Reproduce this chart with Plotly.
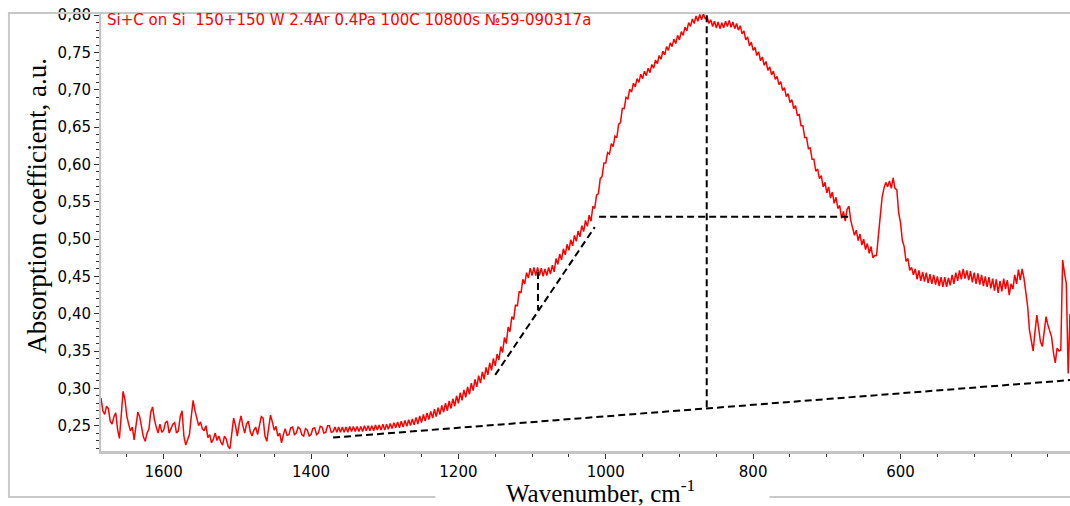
import plotly.graph_objects as go

# IR absorption spectrum.
# Four pieces, each sampled every 2.5 cm-1 starting from its first wavenumber.
step = 2.5

seg_noise_start = 1685
seg_noise = [
    0.287, 0.270, 0.265, 0.276, 0.273, 0.256, 0.252, 0.262, 0.267, 0.245,
    0.233, 0.262, 0.296, 0.285, 0.263, 0.252, 0.243, 0.248, 0.231, 0.250,
    0.268, 0.262, 0.247, 0.235, 0.229, 0.240, 0.245, 0.268, 0.275, 0.258,
    0.248, 0.240, 0.252, 0.241, 0.244, 0.254, 0.256, 0.240, 0.246, 0.252,
    0.254, 0.240, 0.243, 0.262, 0.270, 0.236, 0.224, 0.232, 0.238, 0.262,
    0.284, 0.270, 0.260, 0.250, 0.255, 0.246, 0.243, 0.250, 0.234, 0.238,
    0.227, 0.232, 0.240, 0.230, 0.236, 0.228, 0.224, 0.236, 0.232, 0.222,
    0.219, 0.240, 0.260, 0.250, 0.236, 0.252, 0.263, 0.250, 0.240, 0.252,
    0.256, 0.242, 0.236, 0.244, 0.248, 0.238, 0.252, 0.262, 0.260, 0.236,
    0.229, 0.250, 0.264, 0.255, 0.244, 0.249, 0.236, 0.240, 0.227, 0.238,
    0.246, 0.237, 0.238, 0.247, 0.248, 0.238, 0.240, 0.248, 0.246, 0.238,
    0.236, 0.246, 0.244, 0.236, 0.238, 0.246, 0.247, 0.238, 0.240, 0.249,
    0.248, 0.240, 0.241, 0.250, 0.250, 0.241, 0.242,
]

seg_rise_start = 1367.5
seg_rise = [
    0.248, 0.241, 0.248, 0.241, 0.248, 0.241, 0.248, 0.241, 0.249, 0.242,
    0.249, 0.242, 0.249, 0.242, 0.249, 0.242, 0.250, 0.243, 0.250, 0.243,
    0.250, 0.243, 0.251, 0.244, 0.251, 0.244, 0.252, 0.244, 0.252, 0.245,
    0.253, 0.246, 0.254, 0.247, 0.255, 0.247, 0.256, 0.248, 0.257, 0.249,
    0.258, 0.250, 0.259, 0.251, 0.261, 0.252, 0.263, 0.254, 0.265, 0.256,
    0.267, 0.258, 0.269, 0.260, 0.272, 0.262, 0.274, 0.265, 0.277, 0.268,
    0.280, 0.270, 0.283, 0.273, 0.286, 0.276, 0.290, 0.280, 0.294, 0.284,
    0.298, 0.288, 0.302, 0.292, 0.307, 0.297, 0.312, 0.302, 0.317, 0.307,
    0.322, 0.312, 0.328, 0.318, 0.334, 0.324, 0.340, 0.330, 0.346, 0.338,
    0.356, 0.348, 0.368, 0.360, 0.382, 0.376, 0.396, 0.392, 0.412, 0.410,
    0.430, 0.428, 0.446, 0.440, 0.455, 0.448, 0.461, 0.451, 0.462, 0.451,
    0.462, 0.451, 0.461, 0.450, 0.460, 0.451, 0.462, 0.453, 0.465, 0.456,
    0.474, 0.466, 0.480, 0.472, 0.487, 0.479, 0.493, 0.485, 0.499, 0.491,
    0.505, 0.497, 0.511, 0.503, 0.518, 0.510, 0.525, 0.517, 0.532, 0.524,
]

seg_peak_start = 1017.5
seg_peak = [
    0.544, 0.541, 0.559, 0.561, 0.581, 0.584, 0.602, 0.602, 0.616, 0.614,
    0.628, 0.624, 0.638, 0.636, 0.654, 0.656, 0.675, 0.675, 0.690, 0.688,
    0.701, 0.697, 0.709, 0.704, 0.715, 0.710, 0.721, 0.715, 0.725, 0.719,
    0.729, 0.723, 0.734, 0.729, 0.740, 0.735, 0.746, 0.741, 0.752, 0.747,
    0.758, 0.753, 0.763, 0.758, 0.768, 0.762, 0.773, 0.767, 0.778, 0.773,
    0.784, 0.779, 0.790, 0.785, 0.795, 0.789, 0.799, 0.792, 0.801, 0.794,
    0.802, 0.795, 0.798, 0.789, 0.794, 0.785, 0.792, 0.783, 0.791, 0.782,
    0.790, 0.783, 0.792, 0.785, 0.793, 0.784, 0.791, 0.782, 0.789, 0.780,
    0.786, 0.775, 0.779, 0.767, 0.771, 0.759, 0.764, 0.753, 0.757, 0.746,
    0.751, 0.739, 0.744, 0.733, 0.738, 0.726, 0.731, 0.720, 0.725, 0.714,
    0.718, 0.707, 0.711, 0.699, 0.703, 0.691, 0.695, 0.683, 0.687, 0.675,
    0.679, 0.666, 0.667, 0.652, 0.652, 0.636, 0.636, 0.621, 0.622, 0.607,
    0.607, 0.591, 0.594, 0.581, 0.585, 0.570, 0.576, 0.562, 0.570, 0.555,
    0.563, 0.548, 0.556, 0.541, 0.545, 0.528, 0.537, 0.524, 0.540, 0.544,
    0.525,
]

seg_tail_start = 665
seg_tail = [
    0.516, 0.505, 0.512, 0.498, 0.507, 0.492, 0.500, 0.486, 0.494, 0.481,
    0.490, 0.475, 0.478, 0.478, 0.505, 0.535, 0.556, 0.568, 0.576, 0.570,
    0.578, 0.568, 0.582, 0.568, 0.566, 0.535, 0.522, 0.498, 0.490, 0.470,
    0.474, 0.458, 0.462, 0.452, 0.460, 0.446, 0.458, 0.444, 0.456, 0.443,
    0.455, 0.441, 0.453, 0.440, 0.452, 0.439, 0.450, 0.437, 0.449, 0.436,
    0.449, 0.436, 0.448, 0.438, 0.452, 0.440, 0.455, 0.444, 0.458, 0.446,
    0.460, 0.447, 0.458, 0.445, 0.457, 0.442, 0.455, 0.440, 0.454, 0.439,
    0.452, 0.437, 0.450, 0.436, 0.449, 0.434, 0.447, 0.431, 0.446, 0.428,
    0.444, 0.430, 0.447, 0.433, 0.445, 0.425, 0.440, 0.433, 0.452, 0.440,
    0.459, 0.445, 0.460, 0.448, 0.432, 0.410, 0.378, 0.365, 0.350, 0.376,
    0.398, 0.380, 0.362, 0.356, 0.380, 0.396, 0.385, 0.375, 0.369, 0.348,
    0.334, 0.354, 0.350, 0.351, 0.472, 0.455, 0.440, 0.320, 0.400,
]

segments = [(seg_noise_start, seg_noise), (seg_rise_start, seg_rise),
            (seg_peak_start, seg_peak), (seg_tail_start, seg_tail)]
wavenumber, absorption = [], []
for start, vals in segments:
    wavenumber += [start - step * i for i in range(len(vals))]
    absorption += vals

# construction lines (dashed)
baseline_x = [1370, 370]
baseline_y = [0.234, 0.311]
peak_x = [863, 863]
peak_y = [0.800, 0.273]
half_x = [1009, 669]
half_y = [0.530, 0.530]
tangent_x = [1150, 1015]
tangent_y = [0.318, 0.516]
shoulder_x = [1092, 1092]
shoulder_y = [0.456, 0.405]

x_ticks = [1600, 1400, 1200, 1000, 800, 600]

fig = go.Figure()
fig.add_trace(go.Scatter(x=wavenumber, y=absorption, mode="lines",
                         line=dict(color="#ff0000", width=1.5)))

dash_style = dict(color="black", width=2, dash="7px,4px")
for lx, ly in [(baseline_x, baseline_y), (peak_x, peak_y), (half_x, half_y),
               (tangent_x, tangent_y), (shoulder_x, shoulder_y)]:
    fig.add_trace(go.Scatter(x=lx, y=ly, mode="lines", line=dash_style))

tickfont = dict(family="DejaVu Sans, Arial", size=15, color="black")
fig.update_layout(
    width=1070, height=506,
    margin=dict(l=101, r=0, t=13, b=55),
    paper_bgcolor="white", plot_bgcolor="white",
    showlegend=False,
    separators=",.",
    xaxis=dict(range=[1685, 370], showgrid=False, zeroline=False,
               showline=True, linecolor="#c4c4c4", linewidth=3,
               ticks="outside", ticklen=5, tickcolor="#333",
               tickvals=x_ticks, tickfont=tickfont,
               minor=dict(dtick=50, ticks="outside", ticklen=3, tickcolor="#333")),
    yaxis=dict(range=[0.216, 0.803], showgrid=False, zeroline=False,
               showline=True, linecolor="#c4c4c4", linewidth=2,
               ticks="outside", ticklen=5, tickcolor="#333",
               dtick=0.05, tick0=0.25, tickformat=".2f", tickfont=tickfont,
               ticklabeloverflow="allow",
               minor=dict(dtick=0.01, ticks="outside", ticklen=3, tickcolor="#333")),
)

# outer frame
frame = dict(type="line", xref="paper", yref="paper",
             line=dict(color="#c8c8c8", width=2))
fig.add_shape(x0=-0.096, x1=1.0, y0=1.0, y1=1.0, **frame)
fig.add_shape(x0=-0.095, x1=-0.095, y0=1.0, y1=-0.105, **frame)
fig.add_shape(x0=-0.096, x1=0.345, y0=-0.105, y1=-0.105, **frame)
fig.add_shape(x0=0.69, x1=1.0, y0=-0.105, y1=-0.105, **frame)

fig.add_annotation(text="Si+C on Si\u00a0\u00a0150+150 W 2.4Ar 0.4Pa 100C 10800s №59-090317a",
                   xref="paper", yref="paper", x=0.004, y=0.984,
                   xanchor="left", yanchor="middle", showarrow=False,
                   font=dict(family="DejaVu Sans, Arial", size=15, color="#ff0000"))
fig.add_annotation(text="Wavenumber, cm<sup>-1</sup>",
                   xref="paper", yref="paper", x=0.515, y=-0.092,
                   xanchor="center", yanchor="middle", showarrow=False,
                   font=dict(family="Liberation Serif, Times New Roman", size=25, color="black"))
fig.add_annotation(text="Absorption coefficient, a.u.",
                   xref="paper", yref="paper", x=-0.066, y=0.56,
                   xanchor="center", yanchor="middle", showarrow=False, textangle=-90,
                   font=dict(family="Liberation Serif, Times New Roman", size=27, color="black"))

# drop the default 8px page margin so the figure fills the window
fig.write_html("out.html", config={"displayModeBar": False},
               post_script="document.body.style.margin='0';document.body.style.overflow='hidden';")
